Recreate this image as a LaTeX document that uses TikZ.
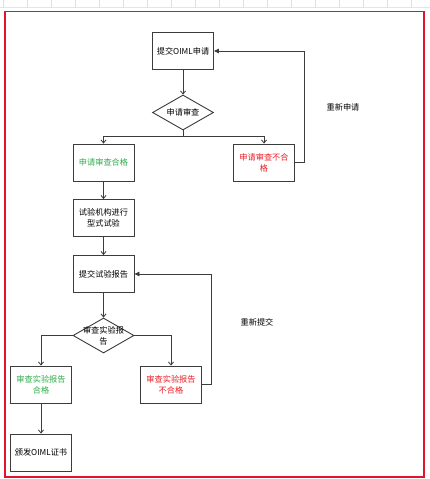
\documentclass[tikz,border=0pt]{standalone}
\usepackage{fontspec}
\newfontfamily\cjk{Noto Sans CJK SC}
\usetikzlibrary{arrows.meta,shapes.geometric}
\definecolor{bordred}{HTML}{E0142C}
\definecolor{okgreen}{HTML}{2EAE4A}
\definecolor{ngred}{HTML}{EE1C24}
\definecolor{linegray}{HTML}{3C3C3C}
\tikzset{
  box/.style={draw=linegray, line width=0.9pt, minimum width=61pt, minimum height=37pt, inner sep=1pt, align=center, font=\cjk\fontsize{8.2}{11}\selectfont},
  dia/.style={draw=linegray, line width=0.9pt, diamond, minimum width=61pt, minimum height=35pt, inner sep=0pt},
  txt/.style={align=center, font=\cjk\fontsize{8.2}{11}\selectfont, inner sep=0pt},
  conn/.style={draw=linegray, line width=0.8pt},
  arr/.style={conn, -{Straight Barb[length=3pt,width=5pt]}},
  fb/.style={conn, -{Triangle[length=5pt,width=4.5pt]}},
}
\begin{document}
\begin{tikzpicture}[x=1pt,y=-1pt]
\useasboundingbox (0,0) rectangle (430,479);
\fill[white] (0,0) rectangle (430,479);
% ruler strip
\foreach \i in {0,...,17} \draw[gray!25, line width=0.5pt] (3+24*\i,0) -- (3+24*\i,7);
\draw[gray!20, line width=0.5pt] (0,7.5) -- (430,7.5);
% red border
\draw[bordred, line width=1.8pt] (5,11.5) rectangle (424,477);

\node[box] (n1) at (183,51) {提交OIML申请};
\node[dia] (d1) at (183,112.5) {};
\node[txt] (d1t) at (d1) {申请审查};
\node[box, text=okgreen] (ok1) at (103.5,162.5) {申请审查合格};
\node[box, text=ngred] (ng1) at (264,162.5) {申请审查不合\\格};
\node[txt] (lab1) at (343,107) {重新申请};
\node[box] (t1) at (103.5,218) {试验机构进行\\型式试验};
\node[box] (r1) at (103.5,274) {提交试验报告};
\node[dia] (d2) at (103.5,335.5) {};
\node[txt] (d2t) at (d2) {审查实验报\\告};
\node[box, text=okgreen] (ok2) at (41,384.5) {审查实验报告\\合格};
\node[box, text=ngred] (ng2) at (171,384.5) {审查实验报告\\不合格};
\node[txt] (lab2) at (257,322) {重新提交};
\node[box] (cert) at (41,452.5) {颁发OIML证书};

\draw[arr] (n1) -- (d1);
\draw[conn] (d1.south) -- ++(0,6) coordinate (j1);
\draw[arr] (j1) -| (ok1.north);
\draw[arr] (j1) -| (ng1.north);
\draw[fb] (ng1.east) -- ++(9,0) |- (n1.east);
\draw[arr] (ok1) -- (t1);
\draw[arr] (t1) -- (r1);
\draw[arr] (r1) -- (d2);
\draw[arr] (d2.west) -| (ok2.north);
\draw[arr] (d2.east) -| (ng2.north);
\draw[fb] (ng2.east) -- ++(9,0) |- (r1.east);
\draw[arr] (ok2) -- (cert);
\end{tikzpicture}
\end{document}
